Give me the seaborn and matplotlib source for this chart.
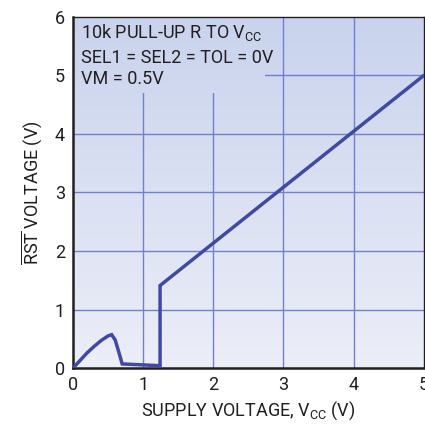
import numpy as np
import pandas as pd
import matplotlib
matplotlib.use('Agg')
import matplotlib.pyplot as plt
import seaborn as sns
from matplotlib.colors import LinearSegmentedColormap

sns.set_style('white')
plt.rcParams['font.family'] = ['Roboto', 'DejaVu Sans']
plt.rcParams['mathtext.fontset'] = 'custom'
plt.rcParams['mathtext.rm'] = 'Roboto'
plt.rcParams['mathtext.it'] = 'Roboto'

# data
vcc = [0.0, 0.1, 0.2, 0.3, 0.4, 0.5, 0.55, 0.6, 0.65, 0.7, 1.24, 1.24, 5.0]
rst = [0.0, 0.13, 0.26, 0.37, 0.47, 0.55, 0.57, 0.48, 0.28, 0.07, 0.04, 1.41, 5.0]
xticks = [0, 1, 2, 3, 4, 5]
yticks = [0, 1, 2, 3, 4, 5, 6]
notes = ['10k PULL-UP R TO V$_{\\rm CC}$', 'SEL1 = SEL2 = TOL = 0V', 'VM = 0.5V']

df = pd.DataFrame({'vcc': vcc, 'rst': rst})

fig = plt.figure(figsize=(4.25, 4.24), dpi=100)
ax = fig.add_axes([0.172, 0.132, 0.825, 0.828])

grad = LinearSegmentedColormap.from_list('bg', ['#eceef8', '#c9d3ed'])
g = np.linspace(0, 1, 256).reshape(-1, 1)
ax.imshow(g, cmap=grad, origin='lower', extent=[0, 5, 0, 6], aspect='auto', zorder=0)

for x in xticks[1:-1]:
    ax.axvline(x, color='#6f80d0', lw=1.0, zorder=1)
for y in yticks[1:-1]:
    ax.axhline(y, color='#6f80d0', lw=1.0, zorder=1)

# plain panel behind the notes (hides the grid there)
ax.imshow(g[int(256 * 4.7 / 6):], cmap=grad, vmin=0, vmax=1, origin='lower',
          extent=[0, 2.73, 4.7, 6], aspect='auto', zorder=1.5)

sns.lineplot(data=df, x='vcc', y='rst', sort=False, estimator=None, color='#3f4aa3',
             lw=2.5, ax=ax, zorder=3)
ax.lines[-1].set_solid_joinstyle('miter')

for t, yb in zip(notes, [5.64, 5.22, 4.86]):
    ax.text(0.11, yb, t, fontsize=13, color='#231f20', va='baseline', zorder=4)

ax.set_xlim(0, 5)
ax.set_ylim(0, 6)
ax.set_xticks(xticks)
ax.set_yticks(yticks)
ax.tick_params(labelsize=13, length=0, pad=6, colors='#231f20')
for s in ax.spines.values():
    s.set_color('#231f20')
    s.set_linewidth(1.0)
ax.spines['left'].set_linewidth(1.8)
ax.spines['bottom'].set_linewidth(1.8)

ax.set_xlabel('SUPPLY VOLTAGE, V$_{\\rm CC}$ (V)', fontsize=13, color='#231f20', labelpad=4)
ax.set_ylabel('$\\overline{\\rm RST}$ VOLTAGE (V)', fontsize=13, color='#231f20', labelpad=8)

fig.savefig('out.png', dpi=100)
